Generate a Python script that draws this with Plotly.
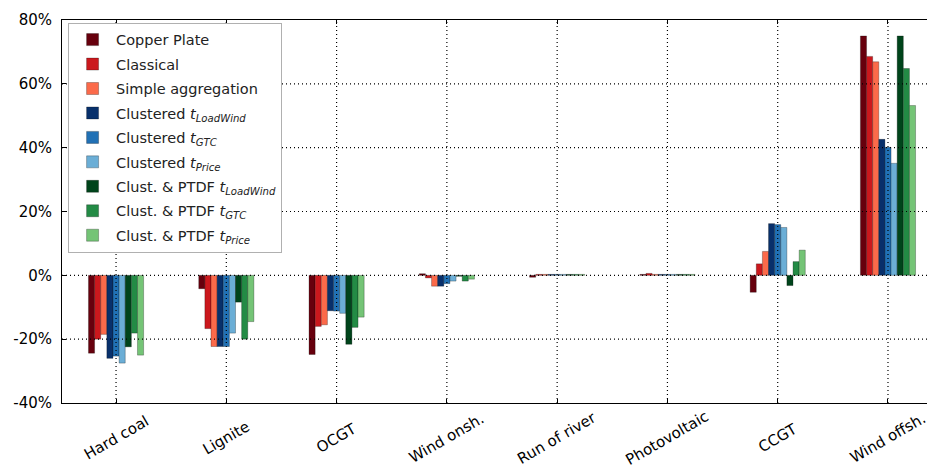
import plotly.graph_objects as go

categories = ["Hard coal", "Lignite", "OCGT", "Wind onsh.", "Run of river",
              "Photovoltaic", "CCGT", "Wind offsh."]

series_names = [
    "Copper Plate",
    "Classical",
    "Simple aggregation",
    "Clustered <i>t</i><sub><i>LoadWind</i></sub>",
    "Clustered <i>t</i><sub><i>GTC</i></sub>",
    "Clustered <i>t</i><sub><i>Price</i></sub>",
    "Clust. &amp; PTDF <i>t</i><sub><i>LoadWind</i></sub>",
    "Clust. &amp; PTDF <i>t</i><sub><i>GTC</i></sub>",
    "Clust. &amp; PTDF <i>t</i><sub><i>Price</i></sub>",
]

copper_plate = [-24.4, -4.2, -24.8, 0.5, -0.6, 0.3, -5.3, 75.0]
classical = [-20.0, -16.7, -16.0, -0.8, 0.3, 0.6, 3.6, 68.6]
simple_agg = [-18.5, -22.3, -15.5, -3.4, 0.3, 0.3, 7.5, 66.9]
clust_lw = [-26.0, -22.3, -11.1, -3.4, 0.3, 0.3, 16.2, 42.6]
clust_gtc = [-25.3, -22.3, -11.2, -2.6, 0.3, 0.3, 15.9, 40.1]
clust_price = [-27.5, -18.1, -11.9, -1.8, 0.3, 0.3, 15.0, 35.1]
ptdf_lw = [-22.4, -8.4, -21.6, -0.3, 0.3, 0.3, -3.2, 75.0]
ptdf_gtc = [-18.1, -20.0, -16.3, -1.8, 0.3, 0.3, 4.3, 64.8]
ptdf_price = [-25.0, -14.5, -13.1, -1.2, 0.3, 0.3, 7.9, 53.2]

series_values = [copper_plate, classical, simple_agg, clust_lw, clust_gtc,
                 clust_price, ptdf_lw, ptdf_gtc, ptdf_price]

colors = ["#67000d", "#cb181d", "#fb6a4a",
          "#08306b", "#2171b5", "#6baed6",
          "#00441b", "#238b45", "#74c476"]

y_ticks = [-40, -20, 0, 20, 40, 60, 80]
y_tick_labels = [f"{v}%" for v in y_ticks]

fig = go.Figure()
for i, (name, vals, col) in enumerate(zip(series_names, series_values, colors)):
    fig.add_trace(go.Bar(
        x=categories, y=vals, name=name, legendgroup=f"g{i}",
        marker=dict(color=col, line=dict(color="rgba(0,0,0,0.45)", width=0.6)),
    ))

# dotted grid drawn above the bars (matplotlib classic style)
grid_line = dict(color="black", width=1.2, dash="1px,3px")
for c in categories:
    fig.add_shape(type="line", xref="x", yref="paper", x0=c, x1=c, y0=0, y1=1,
                  line=grid_line, layer="above")
for v in y_ticks[1:-1]:
    fig.add_shape(type="line", xref="paper", yref="y", x0=0, x1=1, y0=v, y1=v,
                  line=grid_line, layer="above")

# centred, rotated category labels
for c in categories:
    fig.add_annotation(x=c, xref="x", y=-0.092, yref="paper", text=c,
                       textangle=-30, showarrow=False,
                       xanchor="center", yanchor="middle",
                       font=dict(family="DejaVu Sans", size=15, color="black"))

fig.update_layout(
    width=927, height=466,
    margin=dict(l=54, r=3, t=10, b=71),
    barmode="group", bargap=0.5, bargroupgap=0,
    plot_bgcolor="white", paper_bgcolor="white",
    font=dict(family="DejaVu Sans", size=15, color="black"),
    showlegend=True,
    legend=dict(
        x=0.007, y=0.993, xanchor="left", yanchor="top",
        bgcolor="white", bordercolor="#b0b0b0", borderwidth=1,
        font=dict(family="DejaVu Sans", size=14.5, color="#222"),
        itemwidth=37, tracegroupgap=2.6,
    ),
)

fig.update_xaxes(
    type="category", range=[-0.49, 7.39],
    showticklabels=False,
    ticks="inside", ticklen=4, tickcolor="black",
    showline=True, linecolor="black", linewidth=1, mirror="allticks",
    showgrid=False,
)
fig.update_yaxes(
    range=[-40, 80], tickvals=y_ticks, ticktext=y_tick_labels,
    ticks="inside", ticklen=4, tickcolor="black",
    showline=True, linecolor="black", linewidth=1, mirror="allticks",
    showgrid=False, zeroline=False,
    ticklabelstandoff=6,
    tickfont=dict(family="DejaVu Sans", size=15, color="black"),
)

fig.write_html("out.html")
